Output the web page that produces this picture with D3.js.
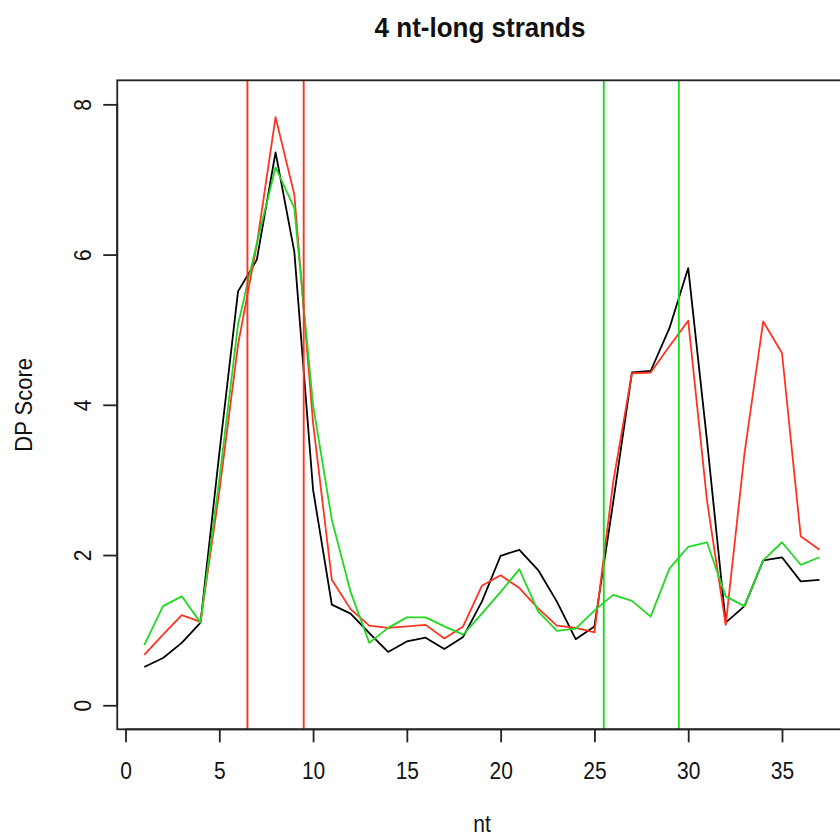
<!DOCTYPE html>
<html>
<head>
<meta charset="utf-8">
<script src="https://cdn.jsdelivr.net/npm/d3@7"></script>
<style>
  html, body { margin: 0; padding: 0; background: #fff; }
  svg { display: block; }
  text { font-family: "Liberation Sans", Arial, Helvetica, sans-serif; fill: #111; }
</style>
</head>
<body>
<svg id="chart" width="840" height="839"></svg>
<script>
// Position along the strand (nt)
const positions = [1, 2, 3, 4, 5, 6, 7, 8, 9, 10, 11, 12, 13, 14, 15, 16, 17, 18, 19,
                   20, 21, 22, 23, 24, 25, 26, 27, 28, 29, 30, 31, 32, 33, 34, 35, 36, 37];

// DP scores for the three profiles
const scoreBlack = [0.51, 0.63, 0.83, 1.10, 3.35, 5.51, 5.93, 7.36, 6.04, 2.87,
                    1.34, 1.22, 0.96, 0.71, 0.85, 0.90, 0.75, 0.91, 1.38, 1.99,
                    2.07, 1.80, 1.38, 0.88, 1.05, 2.70, 4.43, 4.45, 5.02, 5.82,
                    3.53, 1.10, 1.32, 1.93, 1.97, 1.65, 1.67];
const scoreRed   = [0.67, 0.94, 1.20, 1.11, 2.84, 4.80, 6.13, 7.83, 6.80, 3.76,
                    1.67, 1.28, 1.06, 1.03, 1.05, 1.07, 0.89, 1.05, 1.59, 1.73,
                    1.56, 1.29, 1.06, 1.03, 0.97, 2.97, 4.42, 4.43, 4.78, 5.12,
                    2.73, 1.07, 3.35, 5.11, 4.69, 2.25, 2.07];
const scoreGreen = [0.80, 1.32, 1.45, 1.10, 3.00, 5.07, 6.15, 7.16, 6.62, 4.00,
                    2.47, 1.51, 0.83, 1.03, 1.17, 1.17, 1.05, 0.94, 1.22, 1.51,
                    1.81, 1.25, 0.99, 1.02, 1.26, 1.47, 1.39, 1.18, 1.82, 2.11,
                    2.17, 1.45, 1.32, 1.93, 2.17, 1.87, 1.97];

// Region boundaries marked with vertical lines
const redMarks   = [6.5, 9.5];
const greenMarks = [25.5, 29.5];

// Axis ticks
const xTicks = [0, 5, 10, 15, 20, 25, 30, 35];
const yTicks = [0, 2, 4, 6, 8];

const titleText = "4 nt-long strands";
const xLabel = "nt";
const yLabel = "DP Score";

const COL_BLACK = "#000000";
const COL_RED = "#ff3322";
const COL_GREEN = "#22d822";

const svg = d3.select("#chart");

// Plot region (its right edge sits just past the canvas)
const plot = { left: 117.25, right: 846.5, top: 80.3, bottom: 729.3 };

// R-style 4% padding around the data range
const x = d3.scaleLinear().domain([-0.44, 38.44]).range([plot.left, plot.right]);
const y = d3.scaleLinear().domain([-0.32, 8.32]).range([plot.bottom, plot.top]);

svg.append("clipPath").attr("id", "plotClip")
  .append("rect")
  .attr("x", plot.left).attr("y", plot.top)
  .attr("width", plot.right - plot.left).attr("height", plot.bottom - plot.top);

const lineGen = d3.line().x(d => x(d[0])).y(d => y(d[1]));

const series = [
  { values: scoreBlack, color: COL_BLACK },
  { values: scoreRed, color: COL_RED },
  { values: scoreGreen, color: COL_GREEN }
];

const g = svg.append("g").attr("clip-path", "url(#plotClip)");

series.forEach(s => {
  g.append("path")
    .datum(positions.map((p, i) => [p, s.values[i]]))
    .attr("d", lineGen)
    .attr("fill", "none")
    .attr("stroke", s.color)
    .attr("stroke-width", 1.8)
    .attr("stroke-linejoin", "round");
});

// Vertical boundary lines
[[redMarks, COL_RED], [greenMarks, COL_GREEN]].forEach(([marks, col]) => {
  g.selectAll(null).data(marks).enter().append("line")
    .attr("x1", d => x(d)).attr("x2", d => x(d))
    .attr("y1", plot.top).attr("y2", plot.bottom)
    .attr("stroke", col).attr("stroke-width", 1.9);
});

// Box around the plot region
svg.append("rect")
  .attr("x", plot.left).attr("y", plot.top)
  .attr("width", plot.right - plot.left).attr("height", plot.bottom - plot.top)
  .attr("fill", "none").attr("stroke", "#222").attr("stroke-width", 1.8);

// X axis
const xAxis = d3.axisBottom(x).tickValues(xTicks).tickSize(13).tickPadding(6)
  .tickFormat(d3.format("d"));
const gx = svg.append("g").attr("transform", `translate(0,${plot.bottom})`).call(xAxis);
gx.select(".domain").attr("d", `M${x(xTicks[0])},0H${x(xTicks[xTicks.length - 1])}`)
  .attr("stroke", "#222").attr("stroke-width", 1.8);
gx.selectAll(".tick line").attr("stroke", "#222").attr("stroke-width", 1.8);
gx.selectAll(".tick text")
  .attr("font-size", 21).attr("font-family", "Liberation Sans, Arial, sans-serif")
  .attr("fill", "#111")
  .attr("y", 0).attr("dy", null)
  .attr("transform", "translate(0,50) scale(1,1.12)");

// Y axis
const yAxis = d3.axisLeft(y).tickValues(yTicks).tickSize(14).tickFormat(d3.format("d"));
const gy = svg.append("g").attr("transform", `translate(${plot.left},0)`).call(yAxis);
gy.select(".domain").attr("d", `M0,${y(yTicks[0])}V${y(yTicks[yTicks.length - 1])}`)
  .attr("stroke", "#222").attr("stroke-width", 1.8);
gy.selectAll(".tick line").attr("stroke", "#222").attr("stroke-width", 1.8);
gy.selectAll(".tick text")
  .attr("font-size", 21).attr("font-family", "Liberation Sans, Arial, sans-serif")
  .attr("fill", "#111")
  .attr("x", 0).attr("dy", null).attr("text-anchor", "middle")
  .attr("transform", "translate(-26,0) rotate(-90) scale(1,1.12)");

// Title and axis labels
svg.append("text")
  .attr("transform", "translate(480,37) scale(1,1.08)")
  .attr("text-anchor", "middle")
  .attr("font-size", 26).attr("font-weight", "bold")
  .text(titleText);

svg.append("text")
  .attr("transform", "translate(482,832) scale(1,1.12)")
  .attr("text-anchor", "middle")
  .attr("font-size", 21)
  .text(xLabel);

svg.append("text")
  .attr("transform", `translate(32,${(plot.top + plot.bottom) / 2}) rotate(-90) scale(1,1.12)`)
  .attr("text-anchor", "middle")
  .attr("font-size", 22)
  .text(yLabel);
</script>
</body>
</html>
